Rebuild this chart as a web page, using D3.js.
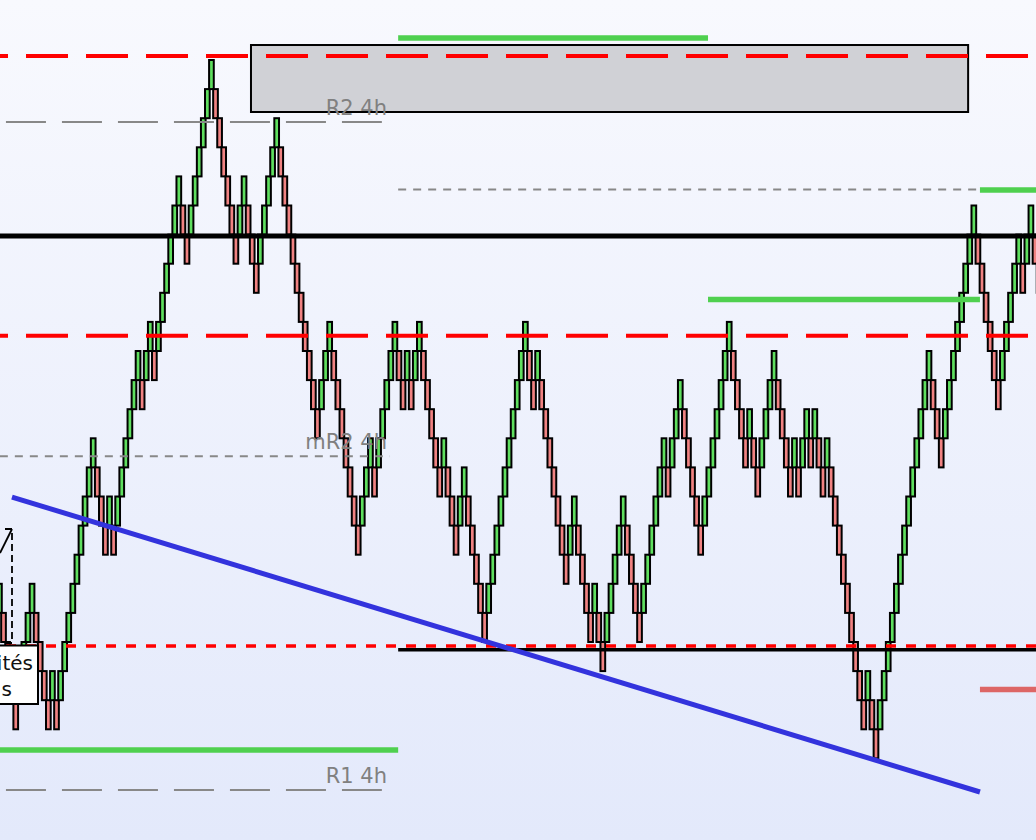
<!DOCTYPE html>
<html><head><meta charset="utf-8">
<script src="https://cdn.jsdelivr.net/npm/d3@7"></script>
<style>html,body{margin:0;padding:0;overflow:hidden;background:#fff}</style>
</head><body>
<svg id="chart" width="1036" height="840"></svg>
<script>
// ---- DATA (renko brick closes, in brick-level units) ----
const firstOpen = 5;
const brickCloses = [
  6,4,3,2,1,3,4,5,6,4,3,2,1,3,1,3,4,5,6,7,8,
  9,10,11,9,8,7,9,7,9,10,
  11,12,13,14,12,14,15,13,15,16,
  17,18,19,20,18,17,19,20,21,22,
  23,24,22,21,20,19,18,17,19,20,
  18,17,16,18,19,20,21,22,20,19,
  18,17,16,15,14,13,12,11,13,14,
  15,13,12,11,10,9,8,7,9,10,
  11,9,11,12,13,14,15,13,12,14,
  12,14,15,13,12,11,10,9,11,9,
  8,7,9,10,8,7,6,5,4,6,
  7,8,9,10,11,12,13,14,15,13,
  12,14,12,11,10,9,8,7,6,8,
  9,7,6,5,4,6,4,3,5,6,
  7,8,9,7,6,5,4,6,7,8,
  9,10,11,9,11,12,13,11,10,9,
  8,7,9,10,11,12,13,14,15,13,
  12,11,10,12,10,9,11,12,13,14,
  12,11,10,9,11,9,11,12,10,12,
  10,9,11,9,8,7,6,5,4,3,
  2,1,3,1,0,2,3,4,5,6,
  7,8,9,10,11,12,13,14,12,11,
  10,12,13,14,15,16,17,18,19,17,
  16,15,14,13,12,14,15,16,17,18,
  16,18,19,17,16
];

// annotation levels (price in brick units, time in brick index)
const redDashedLevels = [24.14, 14.52];
const redDottedLevel = 3.86;
const blackMainLevel = 17.95;
const blackSupport = {from: 97.8, to: 256, price: 3.73};
const pivotLines = [
  {label: "R2 4h", price: 21.87, from: 1.6, to: 93.8},
  {label: "mR2 4h", price: 10.38, from: 0.1, to: 95.8},
  {label: "R1 4h", price: -1.09, from: 1.6, to: 93.8}
];
const grayDottedUpper = {from: 97.8, to: 240.5, price: 19.55};
const greenLevels = [
  {from: 97.8, to: 173.8, price: 24.76},
  {from: 173.8, to: 240.5, price: 15.77},
  {from: 240.5, to: 256, price: 19.53},
  {from: 0, to: 97.8, price: 0.29}
];
const redLevels = [{from: 240.5, to: 256, price: 2.37}];
const grayZone = {from: 61.7, to: 237.6, top: 24.515, bottom: 22.213};
const trendLine = [{i: 3.08, p: 8.98}, {i: 240.5, p: -1.155}];
const noteLines = ["Liquidités", "Stops"];

// ---- BUILD BRICKS ----
const bricks = brickCloses.map((c, k) => {
  const prev = k === 0 ? null : brickCloses[k - 1];
  const up = prev === null ? c > firstOpen : c > prev;
  const open = up ? c - 1 : c + 1;
  return {k, open, close: c, up};
});

const W = 1036, H = 840;
const svg = d3.select("#chart");

const x = d3.scaleLinear().domain([0, 254]).range([-0.567, -0.567 + 254 * 4.077]);
const y = d3.scaleLinear().domain([0, 24]).range([758.4, 60]);

// background
const defs = svg.append("defs");
const grad = defs.append("linearGradient").attr("id", "bg").attr("x1", 0).attr("y1", 0).attr("x2", 0).attr("y2", 1);
grad.append("stop").attr("offset", "0%").attr("stop-color", "#f8f9fe");
grad.append("stop").attr("offset", "100%").attr("stop-color", "#e3e9fb");
defs.append("clipPath").attr("id", "noteClip").append("rect")
  .attr("x", 1.5).attr("y", 640).attr("width", 40).attr("height", 70);
svg.append("rect").attr("width", W).attr("height", H).attr("fill", "url(#bg)");

// gray zone
svg.append("rect")
  .attr("x", x(grayZone.from)).attr("y", y(grayZone.top))
  .attr("width", x(grayZone.to) - x(grayZone.from))
  .attr("height", y(grayZone.bottom) - y(grayZone.top))
  .attr("fill", "#d0d1d6").attr("stroke", "#000").attr("stroke-width", 2);

// bricks
const bw = 4.7;
svg.append("g").selectAll("rect").data(bricks).join("rect")
  .attr("x", d => x(d.k) - bw / 2)
  .attr("y", d => y(Math.max(d.open, d.close)))
  .attr("width", bw)
  .attr("height", d => y(Math.min(d.open, d.close)) - y(Math.max(d.open, d.close)))
  .attr("fill", d => d.up ? "#5fdf5f" : "#f08282")
  .attr("stroke", "#000").attr("stroke-width", 2);

const ann = svg.append("g");
function hline(x0, x1, p, color, w, dash, offset) {
  const l = ann.append("line").attr("x1", x0).attr("x2", x1)
    .attr("y1", y(p)).attr("y2", y(p))
    .attr("stroke", color).attr("stroke-width", w);
  if (dash) l.attr("stroke-dasharray", dash).attr("stroke-dashoffset", offset || 0);
  return l;
}

// pivot gray lines
pivotLines.forEach(d => {
  const dash = d.label.startsWith("m") ? "8,7" : "40,16";
  hline(x(d.from), x(d.to), d.price, "#888", 2, dash);
});
hline(x(grayDottedUpper.from), x(grayDottedUpper.to), grayDottedUpper.price, "#888", 2, "8,7");

// black lines
hline(0, W, blackMainLevel, "#000", 5);
hline(x(blackSupport.from), W, blackSupport.price, "#000", 3.5);

// red dashed / dotted
redDashedLevels.forEach(p => hline(0, W, p, "#ff0000", 4, "42,18", 34));
hline(6, W, redDottedLevel, "#ff0000", 3.5, "10,10");

// green / red levels
greenLevels.forEach(d => hline(Math.max(0, x(d.from)), Math.min(W, x(d.to)), d.price, "#4fd04f", 5.5));
redLevels.forEach(d => hline(x(d.from), W, d.price, "#dd6666", 5.5));

// trend line
ann.append("line")
  .attr("x1", x(trendLine[0].i)).attr("y1", y(trendLine[0].p))
  .attr("x2", x(trendLine[1].i)).attr("y2", y(trendLine[1].p))
  .attr("stroke", "#3333dd").attr("stroke-width", 5);

// pivot labels
pivotLines.forEach(d => {
  ann.append("text").attr("x", 387).attr("y", y(d.price) - 7)
    .attr("text-anchor", "end")
    .attr("font-family", "DejaVu Sans, sans-serif").attr("font-size", 21)
    .attr("fill", "#808080").text(d.label);
});

// callout bracket
ann.append("path").attr("d", "M5,529 L12,529 L12,643 L5,643")
  .attr("fill", "none").attr("stroke", "#000").attr("stroke-width", 1.8).attr("stroke-dasharray", "7,4");
ann.append("line").attr("x1", 12).attr("y1", 529).attr("x2", 0).attr("y2", 553)
  .attr("stroke", "#000").attr("stroke-width", 1.8);

// note box
ann.append("rect").attr("x", -10).attr("y", 645.5).attr("width", 48).attr("height", 58.5)
  .attr("fill", "#fff").attr("stroke", "#000").attr("stroke-width", 2);
ann.append("text").attr("x", 33).attr("y", 670).attr("text-anchor", "end")
  .attr("font-family", "DejaVu Sans, sans-serif").attr("font-size", 20).attr("fill", "#111").text(noteLines[0]);
ann.append("text").attr("x", 12).attr("y", 696).attr("text-anchor", "end")
  .attr("clip-path", "url(#noteClip)")
  .attr("font-family", "DejaVu Sans, sans-serif").attr("font-size", 20).attr("fill", "#111").text(noteLines[1]);
</script>
</body></html>
